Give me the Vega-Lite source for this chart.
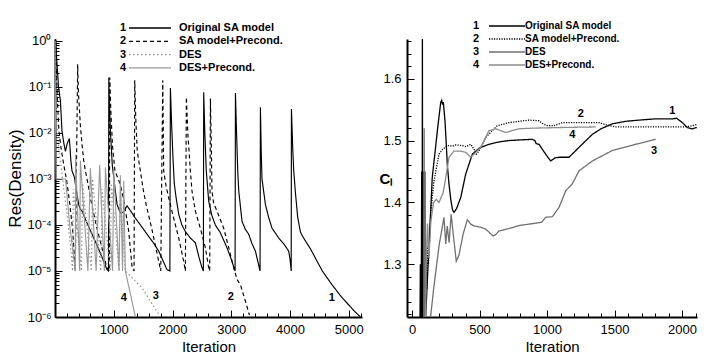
{
  "$schema": "https://vega.github.io/schema/vega-lite/v6.json",
  "padding": {"left": 6, "top": 20, "right": 5, "bottom": 0},
  "background": "white",
  "spacing": 15,
  "config": {
    "view": {"stroke": null},
    "axis": {"domainColor": "black", "domainWidth": 2, "tickColor": "black", "tickWidth": 1, "labelColor": "black", "titleColor": "black", "grid": false, "labelOverlap": false, "labelFlush": false, "labelFont": "Liberation Sans", "labelFontSize": 13, "titleFont": "Liberation Sans", "titleFontSize": 15, "titleFontWeight": "normal"},
    "text": {"font": "Liberation Sans", "fontWeight": "bold", "fontSize": 11, "color": "black"}
  },
  "resolve": {
    "scale": {"color": "independent", "strokeDash": "independent", "opacity": "independent", "strokeWidth": "independent"},
    "legend": {"color": "independent", "strokeDash": "independent", "opacity": "independent", "strokeWidth": "independent"}
  },
  "hconcat": [
    {
      "width": 307,
      "height": 278,
      "layer": [
        {
          "data": {"values": [
            {"n":1,"x":1,"y":1.0},{"n":1,"x":6,"y":1.2},{"n":1,"x":20,"y":0.6},{"n":1,"x":36,"y":0.3},{"n":1,"x":60,"y":0.1},{"n":1,"x":92,"y":0.05},{"n":1,"x":119,"y":0.011},{"n":1,"x":150,"y":0.006},{"n":1,"x":177,"y":0.004},{"n":1,"x":210,"y":0.006},{"n":1,"x":245,"y":0.0076},{"n":1,"x":270,"y":0.0025},{"n":1,"x":289,"y":0.0015},{"n":1,"x":330,"y":0.0011},{"n":1,"x":360,"y":0.0006},{"n":1,"x":403,"y":0.00028},{"n":1,"x":430,"y":0.00022},{"n":1,"x":460,"y":0.0002},{"n":1,"x":560,"y":0.0001},{"n":1,"x":700,"y":0.00004},{"n":1,"x":800,"y":0.00002},{"n":1,"x":885,"y":0.0000107},{"n":1,"x":910,"y":0.00001},{"n":1,"x":916,"y":0.16},{"n":1,"x":925,"y":0.05},{"n":1,"x":945,"y":0.01},{"n":1,"x":975,"y":0.002},{"n":1,"x":1028,"y":0.00054},{"n":1,"x":1056,"y":0.00028},{"n":1,"x":1113,"y":0.00018},{"n":1,"x":1160,"y":0.00019},{"n":1,"x":1226,"y":0.00026},{"n":1,"x":1290,"y":0.0002},{"n":1,"x":1368,"y":0.00014},{"n":1,"x":1480,"y":0.00009},{"n":1,"x":1595,"y":0.000056},{"n":1,"x":1680,"y":0.00004},{"n":1,"x":1765,"y":0.000027},{"n":1,"x":1906,"y":0.0000107},{"n":1,"x":1955,"y":0.00001},{"n":1,"x":1964,"y":0.095},{"n":1,"x":1985,"y":0.015},{"n":1,"x":2010,"y":0.0025},{"n":1,"x":2030,"y":0.0008},{"n":1,"x":2060,"y":0.0004},{"n":1,"x":2106,"y":0.00017},{"n":1,"x":2160,"y":0.0001},{"n":1,"x":2219,"y":0.000072},{"n":1,"x":2304,"y":0.000052},{"n":1,"x":2389,"y":0.000041},{"n":1,"x":2450,"y":0.00002},{"n":1,"x":2502,"y":0.0000117},{"n":1,"x":2525,"y":0.00001},{"n":1,"x":2531,"y":0.077},{"n":1,"x":2550,"y":0.01},{"n":1,"x":2575,"y":0.0015},{"n":1,"x":2616,"y":0.00033},{"n":1,"x":2670,"y":0.00016},{"n":1,"x":2729,"y":0.0001},{"n":1,"x":2814,"y":0.000068},{"n":1,"x":2927,"y":0.000032},{"n":1,"x":3000,"y":0.000018},{"n":1,"x":3065,"y":0.00001},{"n":1,"x":3071,"y":0.074},{"n":1,"x":3090,"y":0.01},{"n":1,"x":3110,"y":0.0015},{"n":1,"x":3128,"y":0.00054},{"n":1,"x":3183,"y":0.00012},{"n":1,"x":3240,"y":0.00008},{"n":1,"x":3297,"y":0.000063},{"n":1,"x":3350,"y":0.00004},{"n":1,"x":3411,"y":0.000027},{"n":1,"x":3490,"y":0.00001},{"n":1,"x":3496,"y":0.036},{"n":1,"x":3510,"y":0.004},{"n":1,"x":3523,"y":0.001},{"n":1,"x":3581,"y":0.00028},{"n":1,"x":3640,"y":0.00014},{"n":1,"x":3694,"y":0.000085},{"n":1,"x":3808,"y":0.000052},{"n":1,"x":3900,"y":0.000038},{"n":1,"x":3978,"y":0.000027},{"n":1,"x":4000,"y":0.000018},{"n":1,"x":4020,"y":0.00001},{"n":1,"x":4024,"y":0.033},{"n":1,"x":4045,"y":0.005},{"n":1,"x":4063,"y":0.0015},{"n":1,"x":4092,"y":0.0005},{"n":1,"x":4130,"y":0.00015},{"n":1,"x":4177,"y":0.00007},{"n":1,"x":4220,"y":0.000055},{"n":1,"x":4262,"y":0.000045},{"n":1,"x":4350,"y":0.00003},{"n":1,"x":4432,"y":0.000019},{"n":1,"x":4550,"y":0.00001},{"n":1,"x":4716,"y":0.000005},{"n":1,"x":4850,"y":0.000003},{"n":1,"x":4943,"y":0.0000022},{"n":1,"x":5080,"y":0.0000014},{"n":1,"x":5200,"y":0.000001},
            {"n":2,"x":1,"y":1.0},{"n":2,"x":10,"y":0.8},{"n":2,"x":25,"y":0.2},{"n":2,"x":45,"y":0.04},{"n":2,"x":65,"y":0.012},{"n":2,"x":100,"y":0.005},{"n":2,"x":150,"y":0.002},{"n":2,"x":200,"y":0.0009},{"n":2,"x":250,"y":0.0003},{"n":2,"x":300,"y":0.00008},{"n":2,"x":345,"y":0.00001},{"n":2,"x":386,"y":0.31},{"n":2,"x":395,"y":0.1},{"n":2,"x":403,"y":0.06},{"n":2,"x":431,"y":0.015},{"n":2,"x":460,"y":0.0056},{"n":2,"x":489,"y":0.0025},{"n":2,"x":518,"y":0.0015},{"n":2,"x":560,"y":0.0008},{"n":2,"x":600,"y":0.0004},{"n":2,"x":650,"y":0.0002},{"n":2,"x":700,"y":0.0001},{"n":2,"x":760,"y":0.00005},{"n":2,"x":820,"y":0.000025},{"n":2,"x":880,"y":0.000012},{"n":2,"x":925,"y":0.00001},{"n":2,"x":932,"y":0.16},{"n":2,"x":950,"y":0.03},{"n":2,"x":980,"y":0.005},{"n":2,"x":1020,"y":0.0015},{"n":2,"x":1113,"y":0.00076},{"n":2,"x":1180,"y":0.0003},{"n":2,"x":1255,"y":0.000072},{"n":2,"x":1312,"y":0.000012},{"n":2,"x":1345,"y":0.00001},{"n":2,"x":1357,"y":0.14},{"n":2,"x":1375,"y":0.02},{"n":2,"x":1400,"y":0.004},{"n":2,"x":1453,"y":0.0015},{"n":2,"x":1500,"y":0.0006},{"n":2,"x":1550,"y":0.00028},{"n":2,"x":1650,"y":0.00008},{"n":2,"x":1750,"y":0.00002},{"n":2,"x":1800,"y":0.00001},{"n":2,"x":1834,"y":0.14},{"n":2,"x":1850,"y":0.0015},{"n":2,"x":1890,"y":0.0007},{"n":2,"x":1935,"y":0.00039},{"n":2,"x":2020,"y":0.00014},{"n":2,"x":2106,"y":0.000052},{"n":2,"x":2191,"y":0.000016},{"n":2,"x":2219,"y":0.00001},{"n":2,"x":2236,"y":0.06},{"n":2,"x":2260,"y":0.01},{"n":2,"x":2304,"y":0.0015},{"n":2,"x":2332,"y":0.00054},{"n":2,"x":2389,"y":0.0002},{"n":2,"x":2474,"y":0.000085},{"n":2,"x":2559,"y":0.000032},{"n":2,"x":2616,"y":0.0000117},{"n":2,"x":2633,"y":0.00001},{"n":2,"x":2645,"y":0.056},{"n":2,"x":2660,"y":0.006},{"n":2,"x":2672,"y":0.00054},{"n":2,"x":2700,"y":0.0003},{"n":2,"x":2757,"y":0.0002},{"n":2,"x":2871,"y":0.000085},{"n":2,"x":2957,"y":0.000032},{"n":2,"x":3041,"y":0.0000117},{"n":2,"x":3100,"y":0.0000065},{"n":2,"x":3156,"y":0.000005},{"n":2,"x":3241,"y":0.0000022},{"n":2,"x":3309,"y":0.0000011},
            {"n":3,"x":1,"y":1.0},{"n":3,"x":5,"y":0.5},{"n":3,"x":15,"y":0.1},{"n":3,"x":30,"y":0.02},{"n":3,"x":60,"y":0.005},{"n":3,"x":100,"y":0.002},{"n":3,"x":150,"y":0.0006},{"n":3,"x":200,"y":0.0002},{"n":3,"x":260,"y":0.00004},{"n":3,"x":300,"y":0.00001},{"n":3,"x":310,"y":0.0006},{"n":3,"x":450,"y":0.00001},{"n":3,"x":470,"y":0.0008},{"n":3,"x":620,"y":0.00001},{"n":3,"x":640,"y":0.001},{"n":3,"x":780,"y":0.00001},{"n":3,"x":800,"y":0.0006},{"n":3,"x":940,"y":0.00001},{"n":3,"x":960,"y":0.0008},{"n":3,"x":1090,"y":0.00001},{"n":3,"x":1110,"y":0.0005},{"n":3,"x":1197,"y":0.00001},{"n":3,"x":1481,"y":0.0000043},{"n":3,"x":1765,"y":0.00000115},{"n":3,"x":1800,"y":0.000001},
            {"n":4,"x":1,"y":1.0},{"n":4,"x":4,"y":0.2},{"n":4,"x":8,"y":0.03},{"n":4,"x":14,"y":0.005},{"n":4,"x":20,"y":0.001},{"n":4,"x":180,"y":0.001},{"n":4,"x":250,"y":0.0001},{"n":4,"x":347,"y":0.00001},{"n":4,"x":350,"y":0.0034},{"n":4,"x":420,"y":0.00001},{"n":4,"x":432,"y":0.0025},{"n":4,"x":560,"y":0.00001},{"n":4,"x":602,"y":0.0017},{"n":4,"x":700,"y":0.00001},{"n":4,"x":760,"y":0.002},{"n":4,"x":840,"y":0.00001},{"n":4,"x":858,"y":0.0018},{"n":4,"x":980,"y":0.00001},{"n":4,"x":1000,"y":0.0015},{"n":4,"x":1090,"y":0.00001},{"n":4,"x":1113,"y":0.0012},{"n":4,"x":1150,"y":0.00001},{"n":4,"x":1170,"y":0.0009},{"n":4,"x":1197,"y":0.00001},{"n":4,"x":1369,"y":0.000001}
          ]},
          "transform": [
            {"lookup": "n", "from": {"data": {"values": [{"n":1,"s":"Original SA model"},{"n":2,"s":"SA model+Precond."},{"n":3,"s":"DES"},{"n":4,"s":"DES+Precond."}]}, "key": "n", "fields": ["s"]}}
          ],
          "mark": {"type": "line", "clip": true, "strokeWidth": 1.15},
          "encoding": {
            "x": {"field": "x", "type": "quantitative", "scale": {"domain": [0, 5225], "nice": false, "zero": false},
              "axis": {"title": "Iteration", "tickCount": 1000, "labelOverlap": false, "values": [200,400,600,800,1000,1200,1400,1600,1800,2000,2200,2400,2600,2800,3000,3200,3400,3600,3800,4000,4200,4400,4600,4800,5000,5200],
                "labelExpr": "datum.value % 1000 === 0 ? format(datum.value, 'd') : ''",
                "tickSize": {"condition": {"test": "datum.value % 1000 === 0", "value": -7}, "value": -4},
                "labelPadding": 13, "titlePadding": 0}},
            "y": {"field": "y", "type": "quantitative", "scale": {"type": "log", "domain": [0.000001, 1.1], "nice": false},
              "axis": {"title": "Res(Density)", "tickCount": 1000, "labelOverlap": false, "titleFontSize": 17, "titlePadding": 2,
                "values": [0.000001,0.000002,0.000003,0.000004,0.000005,0.000006,0.000007,0.000008,0.000009,0.00001,0.00002,0.00003,0.00004,0.00005,0.00006,0.00007,0.00008,0.00009,0.0001,0.0002,0.0003,0.0004,0.0005,0.0006,0.0007,0.0008,0.0009,0.001,0.002,0.003,0.004,0.005,0.006,0.007,0.008,0.009,0.01,0.02,0.03,0.04,0.05,0.06,0.07,0.08,0.09,0.1,0.2,0.3,0.4,0.5,0.6,0.7,0.8,0.9,1],
                "labelExpr": "abs(log(datum.value)/LN10 - round(log(datum.value)/LN10)) < 0.01 ? '10' + (datum.value < 0.5 ? '⁻' : '') + ['⁰','¹','²','³','⁴','⁵','⁶'][abs(round(log(datum.value)/LN10))] : ''",
                "tickSize": {"condition": {"test": "abs(log(datum.value)/LN10 - round(log(datum.value)/LN10)) < 0.01", "value": -7}, "value": -4},
                "labelPadding": 11}},
            "color": {"field": "s", "type": "nominal", "scale": {"domain": ["Original SA model","SA model+Precond.","DES","DES+Precond."], "range": ["#000000","#000000","#8f8f8f","#999999"]},
              "legend": {"orient": "none", "legendX": 73, "legendY": -17, "title": null, "columns": 1, "symbolType": "stroke", "symbolSize": 1764, "symbolStrokeWidth": 1.3, "clipHeight": 12, "rowPadding": 1.3, "padding": 0, "labelFont": "Liberation Sans", "labelFontSize": 11, "labelFontWeight": "bold", "labelColor": "black", "labelOffset": 7}},
            "strokeDash": {"field": "s", "type": "nominal", "scale": {"domain": ["Original SA model","SA model+Precond.","DES","DES+Precond."], "range": [[1,0],[4,3],[1.5,2.5],[1,0]]},
              "legend": {"orient": "none", "legendX": 73, "legendY": -17, "title": null, "columns": 1, "symbolType": "stroke", "symbolSize": 1764, "symbolStrokeWidth": 1.3, "clipHeight": 12, "rowPadding": 1.3, "padding": 0, "labelFont": "Liberation Sans", "labelFontSize": 11, "labelFontWeight": "bold", "labelColor": "black", "labelOffset": 7}},
            "opacity": {"field": "n", "type": "ordinal", "scale": {"domain": [1,2,3,4], "range": [1,1,1,1]},
              "legend": {"orient": "none", "legendX": 54, "legendY": -17, "title": null, "columns": 1, "symbolType": "circle", "symbolSize": 0, "symbolStrokeWidth": 0, "clipHeight": 12, "rowPadding": 1.3, "padding": 0, "labelFont": "Liberation Sans", "labelFontSize": 11, "labelFontWeight": "bold", "labelColor": "black", "labelOffset": 0}}
          }
        },
        {
          "data": {"values": [{"t":"1","x":4710,"y":0.0000026},{"t":"2","x":2991,"y":0.0000027},{"t":"3","x":1714,"y":0.0000028},{"t":"4","x":1170,"y":0.0000026}]},
          "mark": {"type": "text"},
          "encoding": {
            "x": {"field": "x", "type": "quantitative"},
            "y": {"field": "y", "type": "quantitative"},
            "text": {"field": "t"}
          }
        }
      ]
    },
    {
      "width": 290,
      "height": 278,
      "layer": [
        {
          "data": {"values": [
            {"n":1,"x":56,"y":1.1},{"n":1,"x":62,"y":1.3},{"n":1,"x":66,"y":1.1},{"n":1,"x":72,"y":1.45},{"n":1,"x":75,"y":1.1},{"n":1,"x":77,"y":1.7},{"n":1,"x":79,"y":1.1},{"n":1,"x":82,"y":1.45},{"n":1,"x":85,"y":1.1},{"n":1,"x":90,"y":1.3},{"n":1,"x":95,"y":1.15},{"n":1,"x":101,"y":1.215},{"n":1,"x":150,"y":1.44},{"n":1,"x":190,"y":1.52},{"n":1,"x":213,"y":1.562},{"n":1,"x":220,"y":1.565},{"n":1,"x":226,"y":1.558},{"n":1,"x":232,"y":1.562},{"n":1,"x":245,"y":1.53},{"n":1,"x":262,"y":1.46},{"n":1,"x":274,"y":1.43},{"n":1,"x":287,"y":1.405},{"n":1,"x":300,"y":1.388},{"n":1,"x":311,"y":1.384},{"n":1,"x":330,"y":1.39},{"n":1,"x":361,"y":1.408},{"n":1,"x":398,"y":1.446},{"n":1,"x":447,"y":1.478},{"n":1,"x":500,"y":1.488},{"n":1,"x":570,"y":1.494},{"n":1,"x":650,"y":1.498},{"n":1,"x":719,"y":1.5},{"n":1,"x":800,"y":1.501},{"n":1,"x":891,"y":1.502},{"n":1,"x":910,"y":1.5},{"n":1,"x":920,"y":1.495},{"n":1,"x":941,"y":1.494},{"n":1,"x":965,"y":1.486},{"n":1,"x":990,"y":1.478},{"n":1,"x":1027,"y":1.467},{"n":1,"x":1060,"y":1.472},{"n":1,"x":1089,"y":1.473},{"n":1,"x":1163,"y":1.473},{"n":1,"x":1237,"y":1.489},{"n":1,"x":1336,"y":1.51},{"n":1,"x":1400,"y":1.519},{"n":1,"x":1484,"y":1.527},{"n":1,"x":1580,"y":1.531},{"n":1,"x":1681,"y":1.533},{"n":1,"x":1800,"y":1.535},{"n":1,"x":1928,"y":1.535},{"n":1,"x":1960,"y":1.536},{"n":1,"x":2002,"y":1.529},{"n":1,"x":2040,"y":1.521},{"n":1,"x":2076,"y":1.519},{"n":1,"x":2110,"y":1.521},
            {"n":2,"x":80,"y":1.1},{"n":2,"x":85,"y":1.3},{"n":2,"x":90,"y":1.25},{"n":2,"x":95,"y":1.33},{"n":2,"x":100,"y":1.27},{"n":2,"x":105,"y":1.32},{"n":2,"x":110,"y":1.26},{"n":2,"x":115,"y":1.33},{"n":2,"x":122,"y":1.3},{"n":2,"x":139,"y":1.381},{"n":2,"x":160,"y":1.43},{"n":2,"x":176,"y":1.45},{"n":2,"x":200,"y":1.478},{"n":2,"x":224,"y":1.485},{"n":2,"x":261,"y":1.492},{"n":2,"x":300,"y":1.491},{"n":2,"x":324,"y":1.493},{"n":2,"x":373,"y":1.492},{"n":2,"x":400,"y":1.49},{"n":2,"x":435,"y":1.494},{"n":2,"x":459,"y":1.486},{"n":2,"x":476,"y":1.478},{"n":2,"x":496,"y":1.483},{"n":2,"x":546,"y":1.505},{"n":2,"x":595,"y":1.516},{"n":2,"x":632,"y":1.524},{"n":2,"x":719,"y":1.529},{"n":2,"x":867,"y":1.533},{"n":2,"x":940,"y":1.532},{"n":2,"x":965,"y":1.528},{"n":2,"x":1000,"y":1.524},{"n":2,"x":1052,"y":1.524},{"n":2,"x":1113,"y":1.529},{"n":2,"x":1385,"y":1.529},{"n":2,"x":1459,"y":1.524},{"n":2,"x":1509,"y":1.522},{"n":2,"x":2002,"y":1.522},{"n":2,"x":2060,"y":1.523},{"n":2,"x":2110,"y":1.526},
            {"n":3,"x":86,"y":1.1},{"n":3,"x":90,"y":1.52},{"n":3,"x":94,"y":1.1},{"n":3,"x":98,"y":1.45},{"n":3,"x":102,"y":1.1},{"n":3,"x":120,"y":1.18},{"n":3,"x":160,"y":1.26},{"n":3,"x":200,"y":1.33},{"n":3,"x":237,"y":1.376},{"n":3,"x":250,"y":1.333},{"n":3,"x":261,"y":1.362},{"n":3,"x":275,"y":1.335},{"n":3,"x":290,"y":1.381},{"n":3,"x":310,"y":1.34},{"n":3,"x":328,"y":1.305},{"n":3,"x":348,"y":1.315},{"n":3,"x":380,"y":1.35},{"n":3,"x":410,"y":1.372},{"n":3,"x":435,"y":1.365},{"n":3,"x":460,"y":1.362},{"n":3,"x":509,"y":1.36},{"n":3,"x":546,"y":1.357},{"n":3,"x":580,"y":1.35},{"n":3,"x":600,"y":1.346},{"n":3,"x":620,"y":1.348},{"n":3,"x":644,"y":1.354},{"n":3,"x":719,"y":1.358},{"n":3,"x":800,"y":1.363},{"n":3,"x":900,"y":1.366},{"n":3,"x":960,"y":1.368},{"n":3,"x":990,"y":1.376},{"n":3,"x":1040,"y":1.377},{"n":3,"x":1089,"y":1.392},{"n":3,"x":1139,"y":1.419},{"n":3,"x":1187,"y":1.43},{"n":3,"x":1237,"y":1.451},{"n":3,"x":1336,"y":1.467},{"n":3,"x":1484,"y":1.484},{"n":3,"x":1657,"y":1.494},{"n":3,"x":1805,"y":1.502},
            {"n":4,"x":95,"y":1.1},{"n":4,"x":105,"y":1.3},{"n":4,"x":115,"y":1.366},{"n":4,"x":125,"y":1.31},{"n":4,"x":140,"y":1.37},{"n":4,"x":160,"y":1.4},{"n":4,"x":180,"y":1.405},{"n":4,"x":200,"y":1.4},{"n":4,"x":230,"y":1.415},{"n":4,"x":250,"y":1.44},{"n":4,"x":274,"y":1.473},{"n":4,"x":311,"y":1.483},{"n":4,"x":360,"y":1.483},{"n":4,"x":398,"y":1.481},{"n":4,"x":435,"y":1.473},{"n":4,"x":459,"y":1.478},{"n":4,"x":509,"y":1.489},{"n":4,"x":570,"y":1.516},{"n":4,"x":620,"y":1.519},{"n":4,"x":694,"y":1.513},{"n":4,"x":793,"y":1.519},{"n":4,"x":891,"y":1.52},{"n":4,"x":1089,"y":1.521},{"n":4,"x":1361,"y":1.522}
          ]},
          "transform": [
            {"lookup": "n", "from": {"data": {"values": [{"n":1,"s":"Original SA model"},{"n":2,"s":"SA model+Precond."},{"n":3,"s":"DES"},{"n":4,"s":"DES+Precond."}]}, "key": "n", "fields": ["s"]}}
          ],
          "mark": {"type": "line", "clip": true},
          "encoding": {
            "x": {"field": "x", "type": "quantitative", "scale": {"domain": [-37, 2111], "nice": false, "zero": false},
              "axis": {"title": "Iteration", "tickCount": 1000, "labelOverlap": false, "values": [0,100,200,300,400,500,600,700,800,900,1000,1100,1200,1300,1400,1500,1600,1700,1800,1900,2000,2100],
                "labelExpr": "datum.value % 500 === 0 ? format(datum.value, 'd') : ''",
                "tickSize": {"condition": {"test": "datum.value % 500 === 0", "value": -7}, "value": -4},
                "labelPadding": 13, "titlePadding": 0}},
            "y": {"field": "y", "type": "quantitative", "scale": {"domain": [1.215, 1.664], "nice": false, "zero": false},
              "axis": {"title": "Cₗ", "tickCount": 1000, "labelOverlap": false, "titleAngle": 0, "titleAlign": "right", "titleBaseline": "middle", "titleFontWeight": "bold", "titleFontSize": 15, "titlePadding": -10,
                "values": [1.22,1.24,1.26,1.28,1.3,1.32,1.34,1.36,1.38,1.4,1.42,1.44,1.46,1.48,1.5,1.52,1.54,1.56,1.58,1.6,1.62,1.64,1.66],
                "labelExpr": "abs(datum.value*10 - round(datum.value*10)) < 0.01 ? format(datum.value, '.1f') : ''",
                "tickSize": {"condition": {"test": "abs(datum.value*10 - round(datum.value*10)) < 0.01", "value": -7}, "value": -4},
                "labelPadding": 13}},
            "color": {"field": "s", "type": "nominal", "scale": {"domain": ["Original SA model","SA model+Precond.","DES","DES+Precond."], "range": ["#000000","#000000","#707070","#8c8c8c"]},
              "legend": {"orient": "none", "legendX": 81, "legendY": -19, "title": null, "columns": 1, "symbolType": "stroke", "symbolSize": 1296, "clipHeight": 12, "rowPadding": 1, "padding": 0, "labelFont": "Liberation Sans", "labelFontSize": 10, "labelFontWeight": "bold", "labelColor": "black", "labelOffset": -1}},
            "strokeDash": {"field": "s", "type": "nominal", "scale": {"domain": ["Original SA model","SA model+Precond.","DES","DES+Precond."], "range": [[1,0],[1.2,1.3],[1,0],[1,0]]},
              "legend": {"orient": "none", "legendX": 81, "legendY": -19, "title": null, "columns": 1, "symbolType": "stroke", "symbolSize": 1296, "clipHeight": 12, "rowPadding": 1, "padding": 0, "labelFont": "Liberation Sans", "labelFontSize": 10, "labelFontWeight": "bold", "labelColor": "black", "labelOffset": -1}},
            "strokeWidth": {"field": "s", "type": "nominal", "scale": {"domain": ["Original SA model","SA model+Precond.","DES","DES+Precond."], "range": [1.3,1.3,3.5,1.1]},
              "legend": {"orient": "none", "legendX": 81, "legendY": -19, "title": null, "columns": 1, "symbolType": "stroke", "symbolSize": 1296, "clipHeight": 12, "rowPadding": 1, "padding": 0, "labelFont": "Liberation Sans", "labelFontSize": 10, "labelFontWeight": "bold", "labelColor": "black", "labelOffset": -1}},
            "opacity": {"field": "n", "type": "ordinal", "scale": {"domain": [1,2,3,4], "range": [1,1,1,1]},
              "legend": {"orient": "none", "legendX": 55, "legendY": -19, "title": null, "columns": 1, "symbolType": "circle", "symbolSize": 0, "symbolStrokeWidth": 0, "clipHeight": 12, "rowPadding": 1, "padding": 0, "labelFont": "Liberation Sans", "labelFontSize": 11, "labelFontWeight": "bold", "labelColor": "black", "labelOffset": 0}}
          }
        },
        {
          "data": {"values": [{"t":"1","x":1928,"y":1.548},{"t":"2","x":1250,"y":1.543},{"t":"3","x":1793,"y":1.483},{"t":"4","x":1187,"y":1.509}]},
          "mark": {"type": "text"},
          "encoding": {
            "x": {"field": "x", "type": "quantitative"},
            "y": {"field": "y", "type": "quantitative"},
            "text": {"field": "t"}
          }
        }
      ]
    }
  ]
}
